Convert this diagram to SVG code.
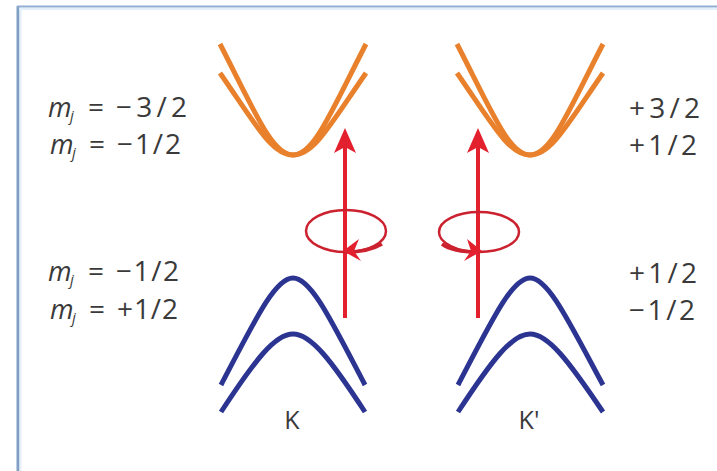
<svg xmlns="http://www.w3.org/2000/svg" width="717" height="471" viewBox="0 0 717 471">
<style>
.lbl{font-family:"Open Sans","Noto Sans","Liberation Sans",sans-serif;font-size:28px;fill:#3a3a3a}
.m{font-style:italic;font-size:27px}
.sub{font-style:italic;font-size:15px}
.k{font-family:"Open Sans","Noto Sans","Liberation Sans",sans-serif;font-size:25px;fill:#3a3a3a;text-anchor:middle}
.cb{fill:none;stroke:#e8802c;stroke-width:5;stroke-linecap:butt}
.vb{fill:none;stroke:#2b3491;stroke-width:5;stroke-linecap:butt}
.ax{fill:none;stroke:#e3202e;stroke-width:4}
.ah{fill:#e3202e}
.el{fill:none;stroke:#cc2230;stroke-width:2.5}
</style>
<rect x="0" y="0" width="717" height="471" fill="#ffffff"/>
<g id="frame">
<line x1="18" y1="6" x2="18" y2="471" stroke="#7f9fc4" stroke-width="3"/>
<line x1="17" y1="6.5" x2="717" y2="6.5" stroke="#8fb0d4" stroke-width="2"/>
<line x1="20.5" y1="8" x2="20.5" y2="471" stroke="#e3f0fb" stroke-width="2"/>
<line x1="19" y1="9" x2="717" y2="9" stroke="#e3f0fb" stroke-width="2"/>
</g>
<g id="labels-left">
<text class="lbl" y="117"><tspan class="m" x="48">m</tspan><tspan class="sub" x="70" dy="4">j</tspan><tspan x="88" dy="-4">=</tspan><tspan x="116" textLength="71" lengthAdjust="spacing">−3/2</tspan></text>
<text class="lbl" y="154"><tspan class="m" x="50">m</tspan><tspan class="sub" x="72" dy="4">j</tspan><tspan x="89" dy="-4">=</tspan><tspan x="117" textLength="64" lengthAdjust="spacing">−1/2</tspan></text>
<text class="lbl" y="281"><tspan class="m" x="48">m</tspan><tspan class="sub" x="70" dy="4">j</tspan><tspan x="88" dy="-4">=</tspan><tspan x="116" textLength="63" lengthAdjust="spacing">−1/2</tspan></text>
<text class="lbl" y="319"><tspan class="m" x="50">m</tspan><tspan class="sub" x="72" dy="4">j</tspan><tspan x="89" dy="-4">=</tspan><tspan x="117" textLength="61" lengthAdjust="spacing">+1/2</tspan></text>
</g>
<g id="labels-right">
<text class="lbl" x="629" y="118" textLength="71" lengthAdjust="spacing">+3/2</text>
<text class="lbl" x="629" y="155" textLength="68" lengthAdjust="spacing">+1/2</text>
<text class="lbl" x="629" y="283" textLength="68" lengthAdjust="spacing">+1/2</text>
<text class="lbl" x="629" y="320" textLength="66" lengthAdjust="spacing">−1/2</text>
</g>
<g id="valley-K">
<path class="cb" d="M220,44 C255,112 272,155 293,155 C314,155 331,112 366,44"/>
<path class="cb" d="M220,73 C256,125 272,155 293,155 C314,155 330,125 366,73"/>
<path class="vb" d="M221,385 C255,320 275,278 293,278 C311,278 331,320 365,385"/>
<path class="vb" d="M221,412 C255,360 275,334 293,334 C311,334 331,360 365,412"/>
<text class="k" x="292" y="429">K</text>
</g>
<g id="valley-Kp">
<path class="cb" d="M457,44 C492,112 509,155 530,155 C551,155 568,112 603,44"/>
<path class="cb" d="M457,73 C493,125 509,155 530,155 C551,155 567,125 603,73"/>
<path class="vb" d="M458,385 C492,320 512,278 530,278 C548,278 568,320 603,385"/>
<path class="vb" d="M458,412 C492,360 512,334 530,334 C548,334 568,360 603,412"/>
<text class="k" x="529" y="429">K'</text>
</g>
<g id="connectors">
<line class="ax" x1="345" y1="318" x2="345" y2="146"/>
<polygon class="ah" points="345,128 356,153 345,147 334,153"/>
<ellipse class="el" cx="346" cy="231" rx="40" ry="21"/>
<path d="M346,252 C360,252 372,250 382,244" fill="none" stroke="#cc2230" stroke-width="3.5"/>
<polygon class="ah" points="343,251 359,239 354,251 361,261"/>
<line class="ax" x1="478" y1="318" x2="478" y2="146"/>
<polygon class="ah" points="478,128 489,153 478,147 467,153"/>
<ellipse class="el" cx="479" cy="232" rx="40" ry="20"/>
<path d="M478,252 C462,252 450,250 442,244" fill="none" stroke="#cc2230" stroke-width="3.5"/>
<polygon class="ah" points="482,251 467,239 471,251 464,261"/>
</g>
</svg>
